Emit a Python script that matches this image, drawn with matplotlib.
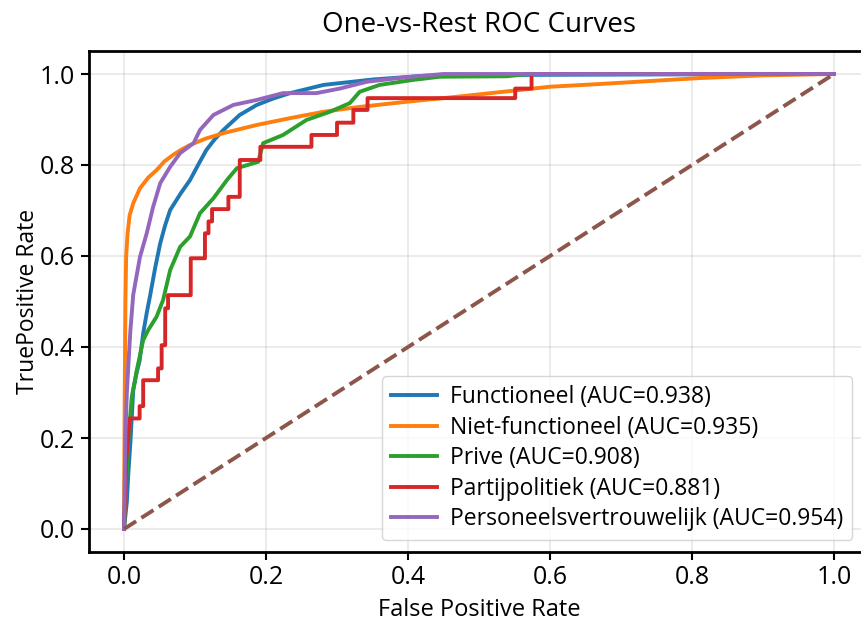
import numpy as np
import matplotlib
matplotlib.use("Agg")
import matplotlib.pyplot as plt

plt.rcParams['font.family'] = ['Open Sans', 'DejaVu Sans']

# ROC-punten per klasse
labels = ["Functioneel", "Niet-functioneel", "Prive", "Partijpolitiek", "Personeelsvertrouwelijk"]
aucs = [0.938, 0.935, 0.908, 0.881, 0.954]

fpr_func = [0.0, 0.004, 0.006, 0.009, 0.013, 0.018, 0.022, 0.027, 0.032, 0.037, 0.044, 0.051, 0.058,
            0.065, 0.080, 0.093, 0.105, 0.116, 0.128, 0.140, 0.163, 0.187, 0.210, 0.234, 0.281,
            0.351, 0.422, 0.55, 0.75, 1.0]
tpr_func = [0.0, 0.06, 0.12, 0.19, 0.305, 0.345, 0.37, 0.43, 0.475, 0.515, 0.575, 0.628, 0.668,
            0.701, 0.738, 0.767, 0.802, 0.833, 0.857, 0.877, 0.910, 0.932, 0.946, 0.958, 0.976,
            0.988, 0.996, 0.998, 0.999, 1.0]

fpr_niet = [0.0, 0.001, 0.002, 0.003, 0.005, 0.008, 0.013, 0.0225, 0.034, 0.046, 0.057, 0.069, 0.081,
            0.093, 0.115, 0.140, 0.187, 0.234, 0.281, 0.328, 0.398, 0.469, 0.60, 0.67, 0.81, 0.90, 1.0]
tpr_niet = [0.0, 0.30, 0.50, 0.598, 0.650, 0.690, 0.716, 0.749, 0.772, 0.789, 0.808, 0.822, 0.834,
            0.844, 0.858, 0.870, 0.888, 0.903, 0.917, 0.927, 0.939, 0.950, 0.972, 0.978, 0.991, 0.997, 1.0]

fpr_prive = [0.0, 0.003, 0.006, 0.011, 0.018, 0.027, 0.034, 0.046, 0.055, 0.065, 0.079, 0.093, 0.107,
             0.126, 0.145, 0.159, 0.189, 0.196, 0.224, 0.257, 0.290, 0.318, 0.332, 0.360, 0.407,
             0.445, 0.539, 0.57, 1.0]
tpr_prive = [0.0, 0.10, 0.196, 0.291, 0.349, 0.415, 0.437, 0.467, 0.503, 0.569, 0.620, 0.643, 0.694,
             0.727, 0.767, 0.793, 0.807, 0.848, 0.866, 0.899, 0.917, 0.936, 0.961, 0.976, 0.987,
             0.994, 0.995, 1.0, 1.0]

fpr_partij = [0.0, 0.003, 0.008, 0.022, 0.022, 0.027, 0.027, 0.048, 0.048, 0.053, 0.053, 0.058, 0.058,
              0.062, 0.062, 0.094, 0.094, 0.114, 0.114, 0.119, 0.119, 0.124, 0.124, 0.147, 0.147,
              0.163, 0.163, 0.192, 0.192, 0.264, 0.264, 0.300, 0.300, 0.323, 0.323, 0.343, 0.343,
              0.551, 0.551, 0.574, 0.574, 1.0]
tpr_partij = [0.0, 0.15, 0.243, 0.243, 0.270, 0.270, 0.327, 0.327, 0.353, 0.353, 0.404, 0.404, 0.485,
              0.485, 0.514, 0.514, 0.595, 0.595, 0.650, 0.650, 0.676, 0.676, 0.703, 0.703, 0.730,
              0.730, 0.811, 0.811, 0.840, 0.840, 0.866, 0.866, 0.893, 0.893, 0.921, 0.921, 0.947,
              0.947, 0.968, 0.968, 1.0, 1.0]

fpr_pers = [0.0, 0.002, 0.004, 0.006, 0.009, 0.013, 0.0225, 0.032, 0.041, 0.051, 0.065, 0.079, 0.098,
            0.107, 0.126, 0.154, 0.187, 0.224, 0.271, 0.304, 0.342, 0.398, 0.45, 1.0]
tpr_pers = [0.0, 0.21, 0.30, 0.357, 0.437, 0.515, 0.598, 0.650, 0.708, 0.760, 0.796, 0.826, 0.848,
            0.877, 0.910, 0.932, 0.943, 0.958, 0.958, 0.968, 0.983, 0.993, 1.0, 1.0]

fprs = [fpr_func, fpr_niet, fpr_prive, fpr_partij, fpr_pers]
tprs = [tpr_func, tpr_niet, tpr_prive, tpr_partij, tpr_pers]

fig = plt.figure(figsize=(8.61, 6.25), dpi=100)
ax = fig.add_axes([0.1028, 0.1172, 0.9071, 0.8008])

for i in range(len(labels)):
    ax.plot(fprs[i], tprs[i], lw=2.8, color=f"C{i}",
            label="{} (AUC={:.3f})".format(labels[i], aucs[i]))
ax.plot([0, 1], [0, 1], "--", lw=2.8, color="C5")

ax.set_xlim(-0.05, 1.05)
ax.set_ylim(-0.05, 1.05)
ax.set_xticks(np.arange(0, 1.01, 0.2))
ax.set_yticks(np.arange(0, 1.01, 0.2))
ax.tick_params(labelsize=18, width=1.5, length=6)
for s in ax.spines.values():
    s.set_linewidth(2)

ax.set_title("One-vs-Rest ROC Curves", fontsize=20, pad=14)
ax.set_xlabel("False Positive Rate", fontsize=17, labelpad=6)
ax.set_ylabel("TruePositive Rate", fontsize=16.5, labelpad=0)
ax.grid(alpha=0.3, lw=1.2)
ax.legend(loc="lower right", bbox_to_anchor=(0.978, 0.023), borderaxespad=0, fontsize=16.5,
          labelspacing=0.28, handlelength=2.0, handletextpad=0.55)

fig.savefig("out.png", dpi=100)
